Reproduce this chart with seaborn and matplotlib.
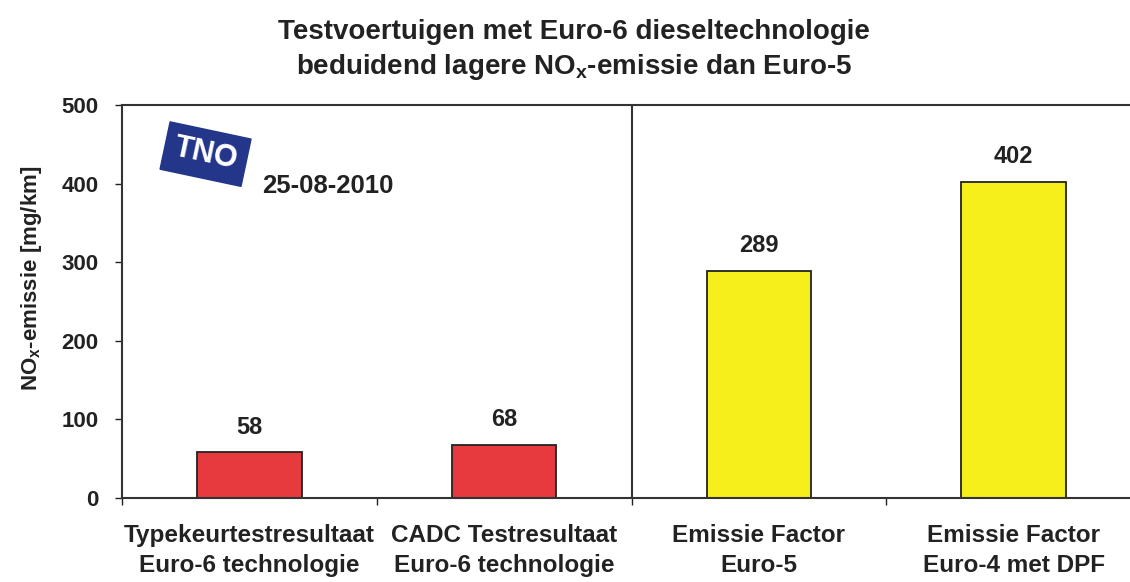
import seaborn as sns
import matplotlib.pyplot as plt
import pandas as pd
from matplotlib.ticker import FixedLocator

categories = ["Typekeurtestresultaat\nEuro-6 technologie",
              "CADC Testresultaat\nEuro-6 technologie",
              "Emissie Factor\nEuro-5",
              "Emissie Factor\nEuro-4 met DPF"]
values = [58, 68, 289, 402]
bar_colors = ["#e63a3f", "#e63a3f", "#f7ef1c", "#f7ef1c"]
y_ticks = [0, 100, 200, 300, 400, 500]
title_lines = ["Testvoertuigen met Euro-6 dieseltechnologie",
               r"beduidend lagere NO$_\mathbf{x}$-emissie dan Euro-5"]
date_text = "25-08-2010"

sns.set_style("white")
plt.rcParams["font.family"] = ["Liberation Sans", "DejaVu Sans"]
plt.rcParams["font.weight"] = "bold"
plt.rcParams["mathtext.fontset"] = "custom"
plt.rcParams["mathtext.bf"] = "Liberation Sans:bold"
plt.rcParams["mathtext.rm"] = "Liberation Sans:bold"

df = pd.DataFrame({"cat": categories, "val": values})

fig = plt.figure(figsize=(11.3, 5.82), dpi=100)
ax = fig.add_axes([122 / 1130, 1 - 498 / 582, (1141 - 122) / 1130, (498 - 105) / 582])

sns.barplot(data=df, x="cat", y="val", hue="cat", palette=bar_colors, saturation=1,
            width=0.41, edgecolor="#222222", linewidth=1.3, legend=False, ax=ax)

for c in ax.containers:
    ax.bar_label(c, padding=10, fontsize=17, fontweight="bold", color="#222222")

ax.set_xlim(-0.5, 3.5)
ax.set_ylim(0, 500)
ax.set_yticks(y_ticks)
ax.tick_params(axis="y", labelsize=16, length=5, width=1, pad=12, colors="#222222", left=True)
ax.tick_params(axis="x", which="major", length=0, pad=19, labelsize=17.5, colors="#222222")
ax.xaxis.set_minor_locator(FixedLocator([-0.5, 0.5, 1.5, 2.5]))
ax.tick_params(axis="x", which="minor", length=5, width=1, bottom=True, color="#222222")
for lbl in ax.get_xticklabels():
    lbl.set_linespacing(1.35)
    lbl.set_fontweight("bold")
for lbl in ax.get_yticklabels():
    lbl.set_fontweight("bold")

ax.set_xlabel("")
ax.set_ylabel(r"NO$_\mathbf{x}$-emissie [mg/km]", fontsize=16, fontweight="bold",
              color="#222222")
ax.yaxis.set_label_coords(-0.077, 0.56)

for side in ["left", "bottom", "top"]:
    ax.spines[side].set_visible(True)
    ax.spines[side].set_color("#333333")
    ax.spines[side].set_linewidth(1.5)
ax.spines["right"].set_visible(False)

ax.axvline(1.5, color="#333333", linewidth=1.5)

# TNO logo and date
ax.text(0.082, 0.875, "TNO", transform=ax.transAxes, fontsize=22, fontweight="heavy",
        color="white", rotation=-12, ha="center", va="center",
        bbox=dict(boxstyle="square,pad=0.3", facecolor="#23368a", edgecolor="#23368a"))
ax.text(0.138, 0.795, date_text, transform=ax.transAxes, fontsize=18.5, fontweight="bold",
        color="#222222", ha="left", va="center")

fig.text(574 / 1130, 1 - 32 / 582, title_lines[0], ha="center", va="center",
         fontsize=20, fontweight="bold", color="#222222")
fig.text(574 / 1130, 1 - 67 / 582, title_lines[1], ha="center", va="center",
         fontsize=20, fontweight="bold", color="#222222")

plt.savefig("out.png", dpi=100)
plt.close()
